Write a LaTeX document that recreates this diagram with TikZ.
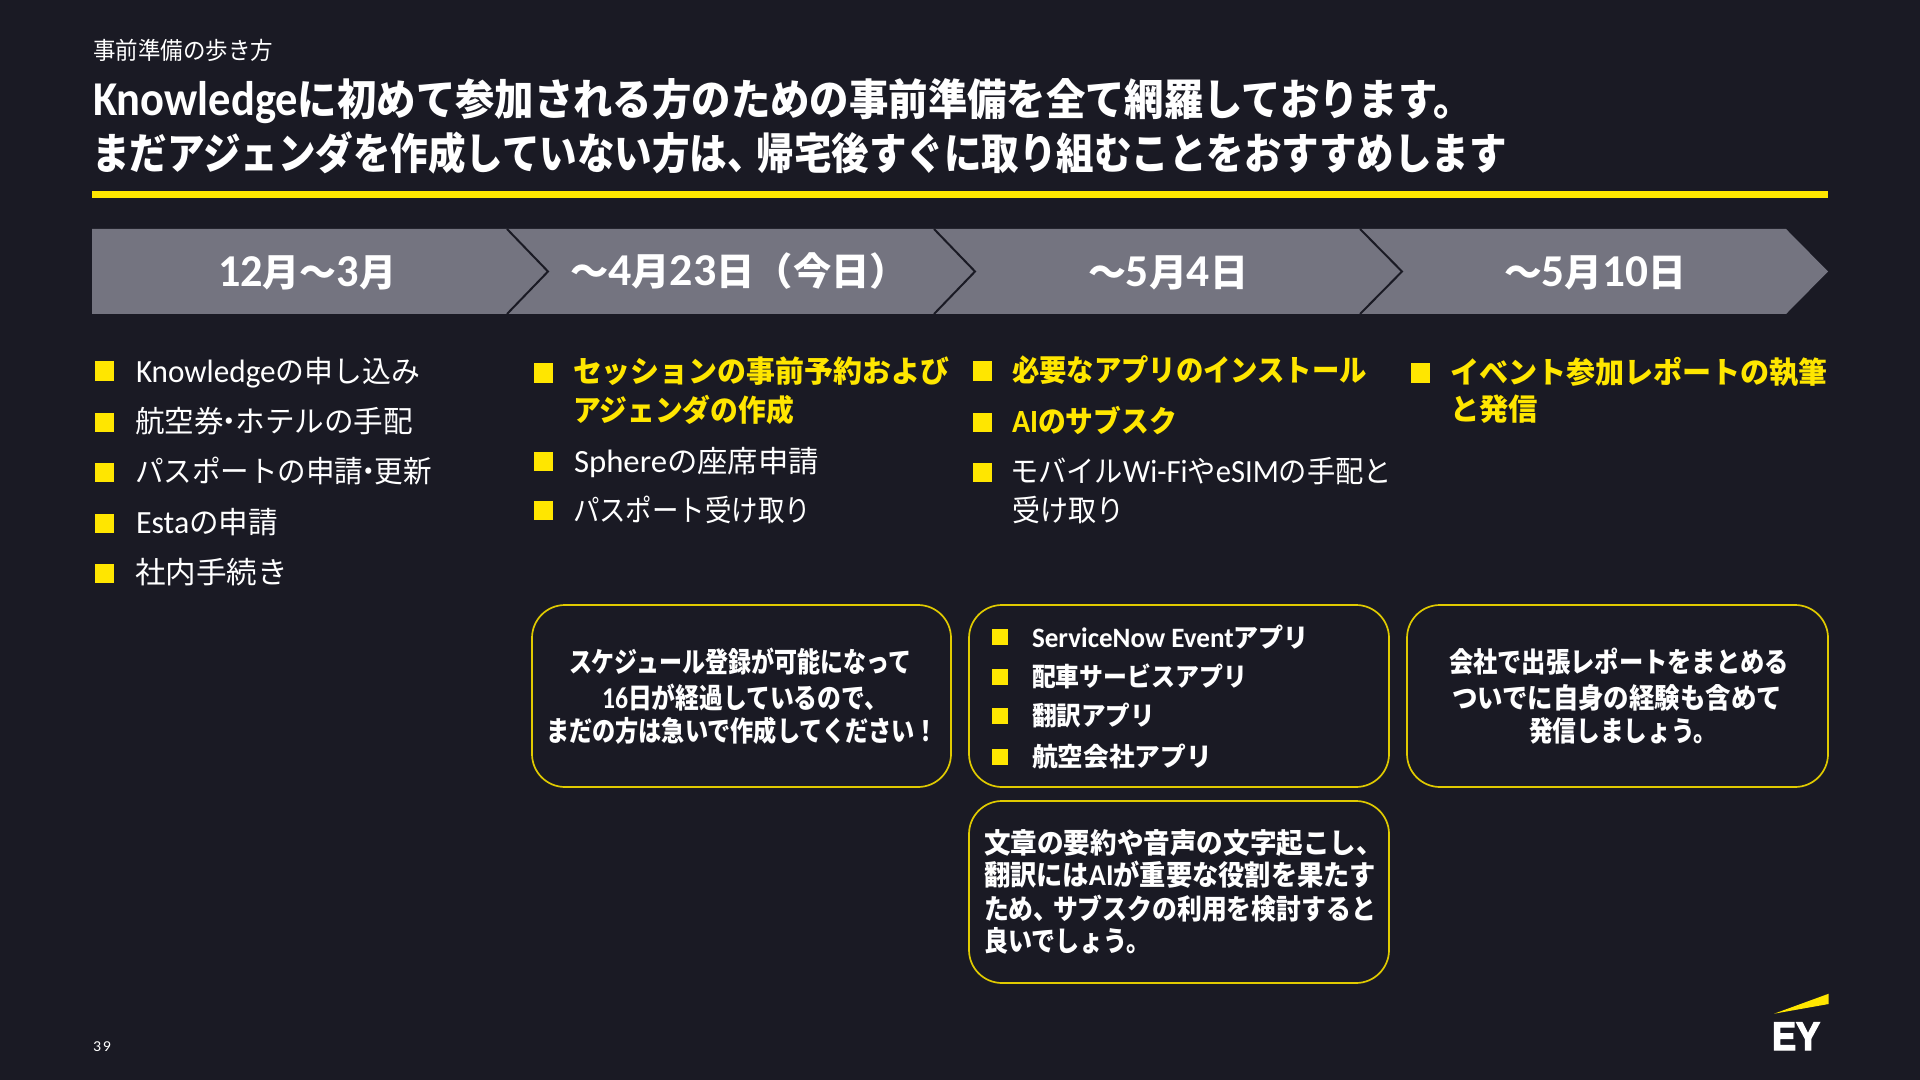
\documentclass[tikz,border=0pt]{standalone}
\usepackage{fontspec}
\usepackage{graphicx}
\setmainfont{Noto Sans CJK JP}
\newfontfamily\latfont[Scale=1.08]{Carlito}
\newfontfamily\latbigfont[Scale=1.2]{Carlito}
\newfontfamily\lattitlefont[Scale=1.13]{Carlito}
\newfontfamily\eyfont[FakeBold=3.5]{Liberation Sans Bold}
\newcommand\lat[1]{{\latfont #1}}
\newcommand\latb[1]{{\latbigfont #1}}
\newcommand\latt[1]{{\lattitlefont #1}}
\newcommand\narrowcomma{、\hspace{-.22em}}
\newcommand\narrowdot{\hspace{-.3em}・\hspace{-.3em}}
\definecolor{bgdark}{HTML}{1A1A24}
\definecolor{eyyellow}{HTML}{FFE600}
\definecolor{chevgray}{HTML}{747480}
\newcommand\fs[1]{\fontsize{#1}{#1}\selectfont}
\newcommand\tl[6]{\node[txt,#5] (#1) at (#2,#3) {\resizebox{\dimexpr#4pt/2\relax}{\height}{#6}};}
\tikzset{
  txt/.style={inner sep=0pt,outer sep=0pt,anchor=base west,text=white},
  subhead/.style={font=\fs{12}},
  headline/.style={font=\fs{21.5}\bfseries},
  chevtext/.style={font=\fs{19}\bfseries},
  plain/.style={font=\fs{15}},
  strong/.style={font=\fs{15}\bfseries,text=eyyellow},
  boxbold/.style={font=\fs{14}\bfseries},
  boxsmall/.style={font=\fs{13}\bfseries},
  pagenum/.style={font=\fs{7}},
  chev/.style={fill=chevgray},
  sep/.style={draw=bgdark,line width=1pt,line join=miter},
  rulebar/.style={fill=eyyellow},
  bullet/.style={fill=eyyellow,inner sep=0pt,minimum size=9.5pt,anchor=center},
  smallbullet/.style={fill=eyyellow,inner sep=0pt,minimum size=8pt,anchor=center},
  callout/.style={draw=eyyellow!88!black,line width=.85pt,rounded corners=16.5pt,inner sep=0pt,minimum height=91pt,anchor=center},
}
\begin{document}
\begin{tikzpicture}[x=0.5pt,y=-0.5pt]
\useasboundingbox[fill=bgdark] (0,0) rectangle (1920,1080);
% header
\tl{sub}{93}{60}{180}{subhead}{事前準備の歩き方}
\tl{t1}{93}{116}{1380}{headline}{\latt{Knowledge}に初めて参加される方のための事前準備を全て網羅しております。}
\tl{t2}{92}{170}{1415}{headline}{まだアジェンダを作成していない方は\narrowcomma 帰宅後すぐに取り組むことをおすすめします}
\path[rulebar] (92,191) rectangle (1828,198);
% chevrons
\path[chev] (92,229)--(507,229)--(548,271.5)--(507,314)--(92,314)--cycle;
\path[chev] (507,229)--(934,229)--(975,271.5)--(934,314)--(507,314)--(548,271.5)--cycle;
\path[chev] (934,229)--(1360,229)--(1402,271.5)--(1360,314)--(934,314)--(975,271.5)--cycle;
\path[chev] (1360,229)--(1786,229)--(1828,271.5)--(1786,314)--(1360,314)--(1402,271.5)--cycle;
\draw[sep] (507,229)--(548,271.5)--(507,314);
\draw[sep] (934,229)--(975,271.5)--(934,314);
\draw[sep] (1360,229)--(1402,271.5)--(1360,314);
\tl{c1}{218}{286}{178}{chevtext}{\latb{12}月～\latb{3}月}
\tl{c2}{570}{286}{338}{chevtext}{～\latb{4}月\latb{23}日（今日）}
\tl{c3}{1088}{286}{160}{chevtext}{～\latb{5}月\latb{4}日}
\tl{c4}{1504}{286}{182}{chevtext}{～\latb{5}月\latb{10}日}
% column 1
\node[bullet] (b11) at (104,371) {};
\node[bullet] (b12) at (104,422) {};
\node[bullet] (b13) at (104,472) {};
\node[bullet] (b14) at (104,523) {};
\node[bullet] (b15) at (104,573) {};
\tl{a1}{136}{382}{284}{plain}{\lat{Knowledge}の申し込み}
\tl{a2}{135}{432}{278}{plain}{航空券\narrowdot ホテルの手配}
\tl{a3}{135}{482}{297}{plain}{パスポートの申請\narrowdot 更新}
\tl{a4}{136}{533}{142}{plain}{\lat{Esta}の申請}
\tl{a5}{135}{583}{153}{plain}{社内手続き}
% column 2
\node[bullet] (b21) at (543,373) {};
\node[bullet] (b22) at (543,461) {};
\node[bullet] (b23) at (543,510) {};
\tl{d1}{573}{383}{376}{strong}{セッションの事前予約および}
\tl{d2}{573}{421}{221}{strong}{アジェンダの作成}
\tl{d3}{574}{472}{245}{plain}{\lat{Sphere}の座席申請}
\tl{d4}{573}{521}{238}{plain}{パスポート受け取り}
% column 3
\node[bullet] (b31) at (982,371) {};
\node[bullet] (b32) at (982,422) {};
\node[bullet] (b33) at (982,472) {};
\tl{e1}{1012}{381}{355}{strong}{必要なアプリのインストール}
\tl{e2}{1012}{432}{165}{strong}{\lat{AI}のサブスク}
\tl{e3}{1010}{482}{382}{plain}{モバイル\lat{Wi-Fi}や\lat{eSIM}の手配と}
\tl{e4}{1012}{521}{112}{plain}{受け取り}
% column 4
\node[bullet] (b41) at (1420,373) {};
\tl{f1}{1450}{383}{378}{strong}{イベント参加レポートの執筆}
\tl{f2}{1450}{420}{88}{strong}{と発信}
% callouts
\node[callout,minimum width=209.5pt] (boxa) at (741.5,696) {};
\node[callout,minimum width=210pt] (boxb) at (1179,696) {};
\node[callout,minimum width=210pt] (boxc) at (1179,892) {};
\node[callout,minimum width=210.5pt] (boxd) at (1617.5,696) {};
\tl{g1}{569}{672}{342}{boxbold}{スケジュール登録が可能になって}
\tl{g2}{602}{708}{286}{boxbold}{\lat{16}日が経過しているので、}
\tl{g3}{546}{741}{392}{boxbold}{まだの方は急いで作成してください！}
\node[smallbullet] (h1b) at (1000,637) {};
\node[smallbullet] (h2b) at (1000,677) {};
\node[smallbullet] (h3b) at (1000,716) {};
\node[smallbullet] (h4b) at (1000,757) {};
\tl{h1}{1032}{647}{277}{boxsmall}{\lat{ServiceNow Event}アプリ}
\tl{h2}{1032}{686}{215}{boxsmall}{配車サービスアプリ}
\tl{h3}{1032}{725}{123}{boxsmall}{翻訳アプリ}
\tl{h4}{1032}{766}{180}{boxsmall}{航空会社アプリ}
\tl{i1}{984}{853}{399}{boxbold}{文章の要約や音声の文字起こし、}
\tl{i2}{984}{885}{392}{boxbold}{翻訳には\lat{AI}が重要な役割を果たす}
\tl{i3}{984}{919}{392}{boxbold}{ため\narrowcomma サブスクの利用を検討すると}
\tl{i4}{984}{951}{166}{boxbold}{良いでしょう。}
\tl{j1}{1449}{672}{340}{boxbold}{会社で出張レポートをまとめる}
\tl{j2}{1452}{708}{330}{boxbold}{ついでに自身の経験も含めて}
\tl{j3}{1529}{741}{188}{boxbold}{発信しましょう。}
% footer
\tl{pg}{93}{1051}{18}{pagenum}{\lat{3\hspace{.12em}9}}
\path[fill=eyyellow] (1774,1013.7)--(1828.7,993.7)--(1828.7,1004)--cycle;
\node[txt,font=\eyfont] (ey) at (1772,1050) {\resizebox{24pt}{13.7pt}{EY}};
\end{tikzpicture}
\end{document}
